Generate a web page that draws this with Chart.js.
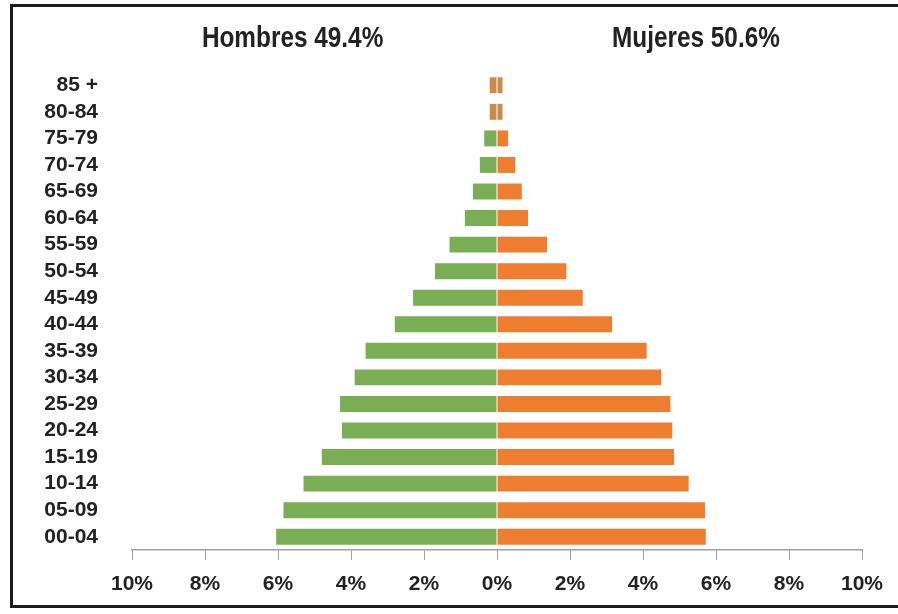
<!DOCTYPE html>
<html>
<head>
<meta charset="utf-8">
<script src="https://cdn.jsdelivr.net/npm/chart.js@4/dist/chart.umd.min.js"></script>
<style>
  html, body { margin: 0; padding: 0; background: #fff; }
  #wrap { position: relative; width: 898px; height: 614px; overflow: hidden; }
  #frame { position: absolute; left: 10px; top: 4px; width: 920px; height: 604px;
           border: 3px solid #1c1c1c; box-sizing: border-box; pointer-events: none; }
  canvas { position: absolute; left: 0; top: 0; }
</style>
</head>
<body>
<div id="wrap">
  <canvas id="pyramid" width="898" height="614"></canvas>
  <div id="frame"></div>
</div>
<script>
// Age groups, top to bottom
const ageGroups = ['85 +', '80-84', '75-79', '70-74', '65-69', '60-64', '55-59', '50-54', '45-49',
  '40-44', '35-39', '30-34', '25-29', '20-24', '15-19', '10-14', '05-09', '00-04'];

// Percent of total population
const hombres = [0.2, 0.2, 0.35, 0.47, 0.66, 0.88, 1.3, 1.7, 2.3,
  2.8, 3.6, 3.9, 4.3, 4.25, 4.8, 5.3, 5.85, 6.05];
const mujeres = [0.15, 0.15, 0.3, 0.5, 0.68, 0.85, 1.37, 1.9, 2.35,
  3.15, 4.1, 4.5, 4.75, 4.8, 4.85, 5.25, 5.7, 5.72];

const xTicks = [-10, -8, -6, -4, -2, 0, 2, 4, 6, 8, 10];

const titleLeft = 'Hombres 49.4%';
const titleRight = 'Mujeres 50.6%';

const green = '#79ae55';
const orange = '#ee7d30';
const brown = '#c98a4c';

// Top two groups look brownish in the source (tiny bars blended)
const maleColors = hombres.map((v, i) => i < 2 ? brown : green);
const femaleColors = mujeres.map((v, i) => i < 2 ? brown : orange);

// Condensed bold titles above each half
const sideTitles = {
  id: 'sideTitles',
  afterDraw(chart) {
    const ctx = chart.ctx;
    const x = chart.scales.x;
    const squeeze = 0.84;
    ctx.save();
    ctx.fillStyle = '#222';
    ctx.font = 'bold 29px "Liberation Sans", Arial, sans-serif';
    ctx.textAlign = 'center';
    ctx.textBaseline = 'middle';
    ctx.scale(squeeze, 1);
    ctx.fillText(titleLeft, x.getPixelForValue(-5.6) / squeeze, 39);
    ctx.fillText(titleRight, x.getPixelForValue(5.45) / squeeze, 39);
    ctx.restore();
  }
};

const ctx = document.getElementById('pyramid').getContext('2d');
new Chart(ctx, {
  type: 'bar',
  data: {
    labels: ageGroups,
    datasets: [
      {
        label: 'Hombres',
        data: hombres.map(v => -v),
        backgroundColor: maleColors,
        barPercentage: 0.6,
        categoryPercentage: 1
      },
      {
        label: 'Mujeres',
        data: mujeres,
        backgroundColor: femaleColors,
        barPercentage: 0.6,
        categoryPercentage: 1
      }
    ]
  },
  options: {
    indexAxis: 'y',
    responsive: false,
    animation: false,
    layout: { padding: { top: 72, right: 36, left: 0, bottom: 0 } },
    plugins: {
      legend: { display: false },
      tooltip: { enabled: false }
    },
    scales: {
      x: {
        stacked: true,
        min: -10,
        max: 10,
        afterBuildTicks(scale) { scale.ticks = xTicks.map(v => ({ value: v })); },
        afterFit(scale) { scale.height = 64; },
        grid: { drawOnChartArea: false, drawTicks: true, tickLength: 10, color: '#a0a0a0' },
        border: { display: true, color: '#a0a0a0', width: 1.5 },
        ticks: {
          padding: 12,
          color: '#222',
          font: { family: 'Liberation Sans', size: 21, weight: 'bold' },
          callback: v => Math.abs(v) + '%'
        }
      },
      y: {
        stacked: true,
        afterFit(scale) { scale.width = 132; },
        grid: { display: false },
        border: { display: false },
        ticks: {
          autoSkip: false,
          padding: 26,
          color: '#222',
          font: { family: 'Liberation Sans', size: 21, weight: 'bold' }
        }
      }
    }
  },
  plugins: [sideTitles]
});
</script>
</body>
</html>
